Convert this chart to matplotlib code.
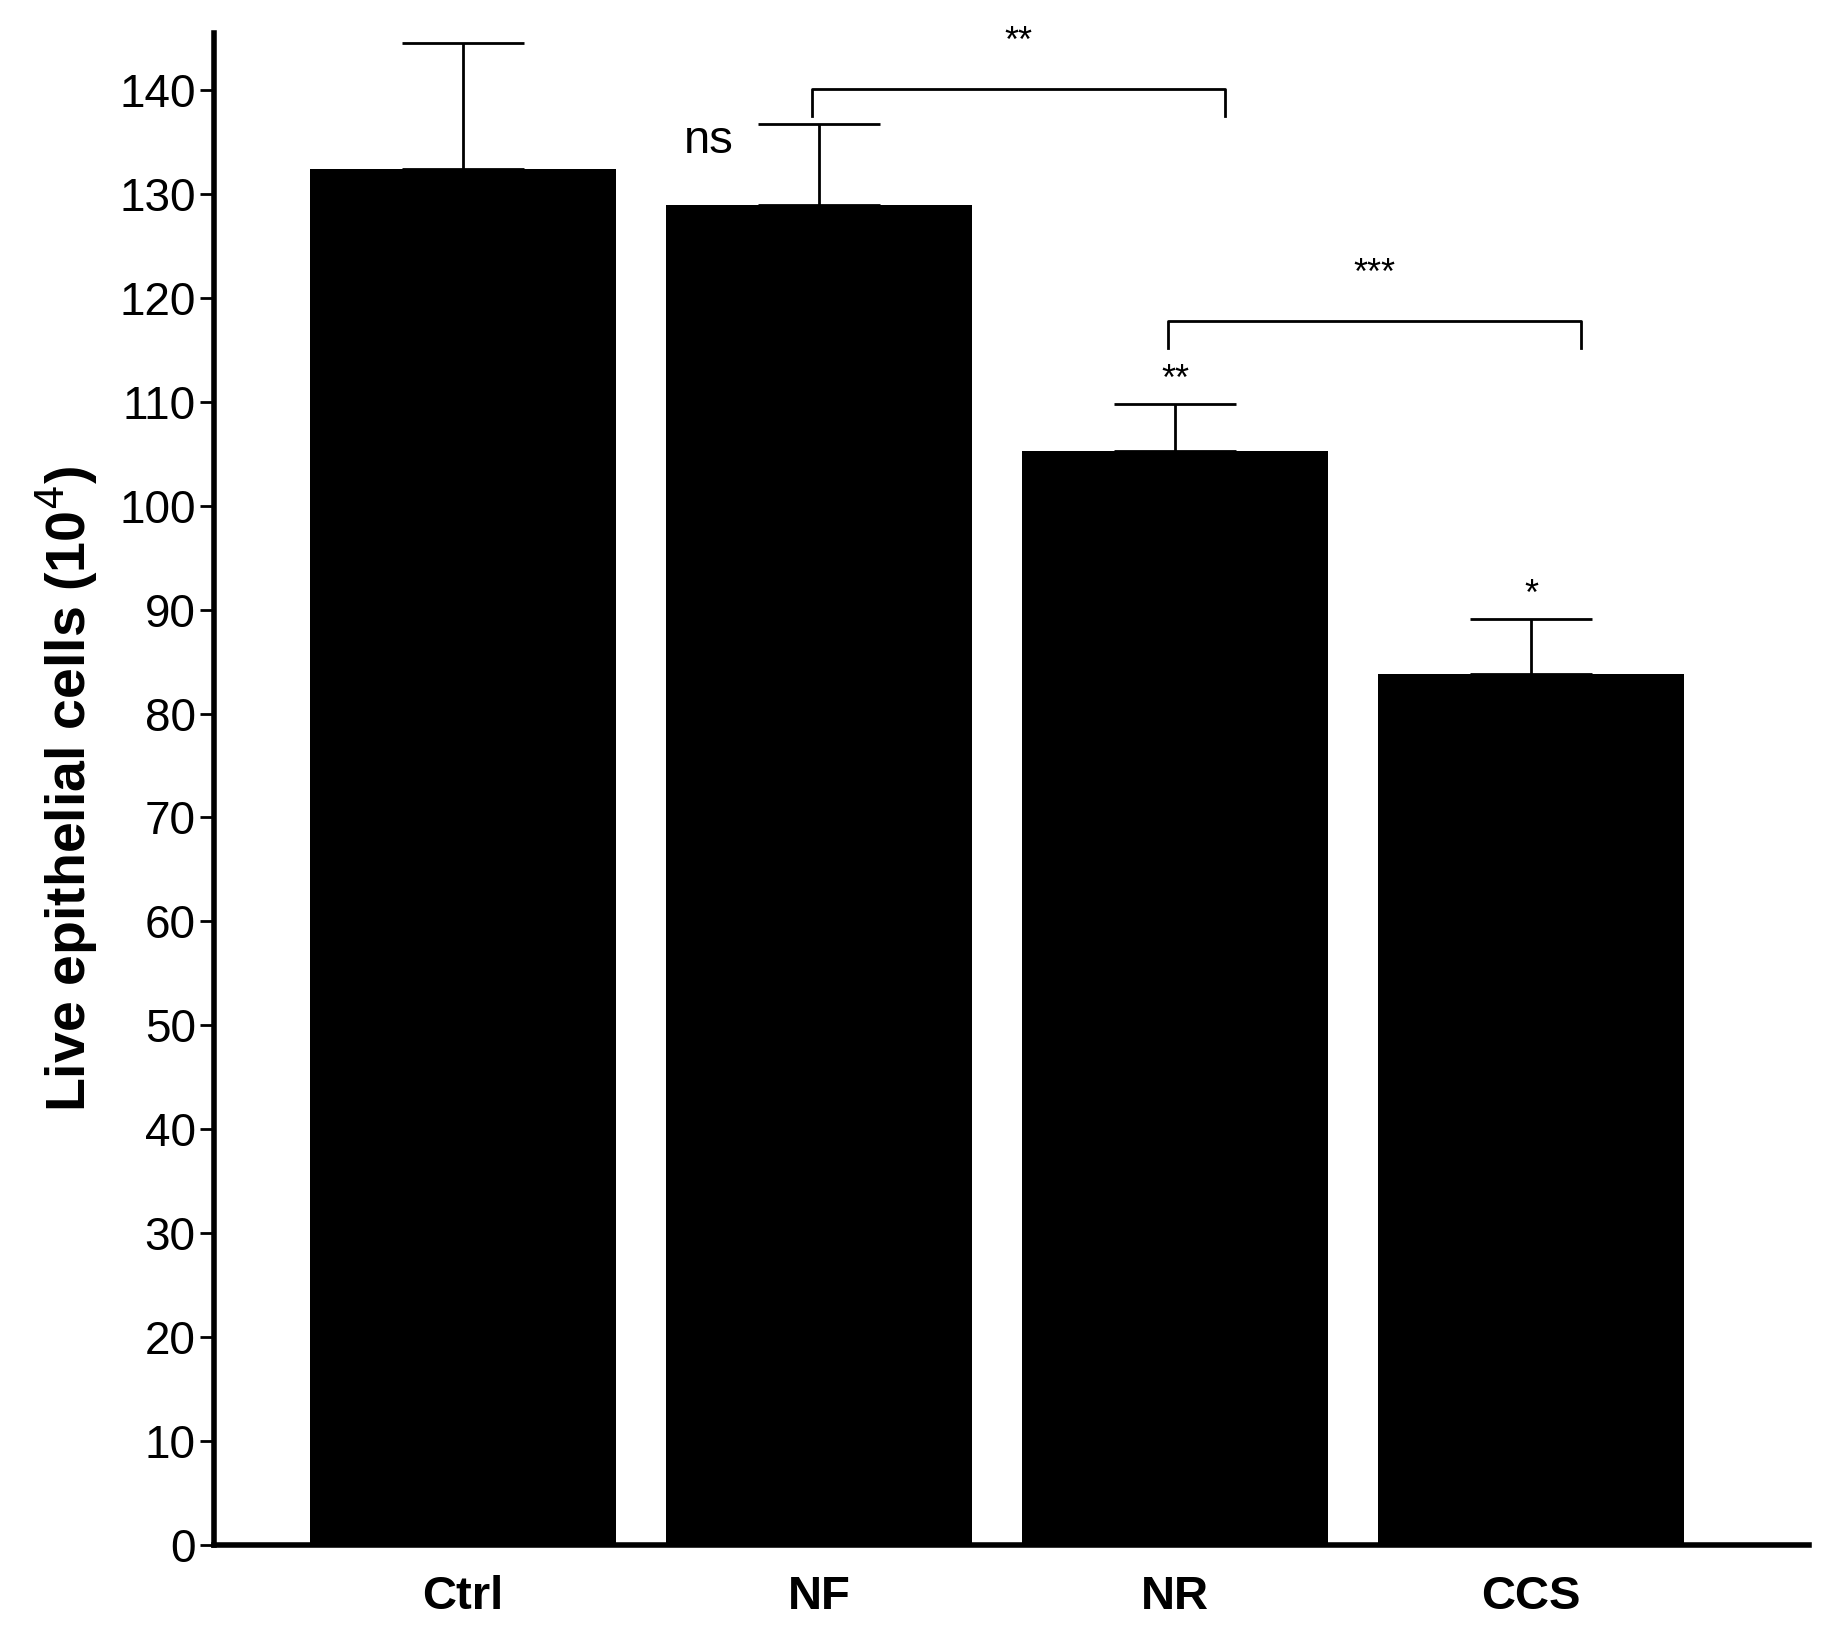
import matplotlib
matplotlib.use("Agg")
import matplotlib.pyplot as plt

categories = ["Ctrl", "NF", "NR", "CCS"]
means = [132.4, 128.9, 105.3, 83.8]
errors = [12.1, 7.8, 4.5, 5.3]
sig_above = ["", "ns", "**", "*"]
brackets = [(1, 2, 140.1, "**"), (2, 3, 117.8, "***")]
yticks = list(range(0, 150, 10))

plt.rcParams["font.family"] = "Liberation Sans"
fig = plt.figure(figsize=(18.27, 16.47), dpi=100)
ax = fig.add_axes([0.117, 0.062, 0.873, 0.918])
x = list(range(len(categories)))
ax.bar(x, means, width=0.86, color="black")
ax.errorbar(x, means, yerr=[[0]*4, errors], fmt="none", ecolor="black",
            elinewidth=2, capsize=44, capthick=2)
for i, (m, e, s) in enumerate(zip(means, errors, sig_above)):
    if s == "ns":
        ax.text(i - 0.31, m + e - 1.6, s, ha="center", va="center", fontsize=34)
    elif s:
        ax.text(i, m + e + 2.3, s, ha="center", va="center", fontsize=26)
for a, b, y, s in brackets:
    ax.plot([a - 0.02, a - 0.02, b + 0.14, b + 0.14], [y - 2.6, y, y, y - 2.6],
            color="black", lw=2)
    ax.text((a + b) / 2 + 0.06, y + 4.5, s, ha="center", va="center", fontsize=26)

ax.set_xlim(-0.70, 3.78)
ax.set_ylim(0, 145.5)
ax.set_yticks(yticks)
ax.set_xticks(x)
ax.set_xticklabels(categories, fontsize=34, fontweight="bold")
ax.tick_params(axis="x", length=0, pad=22)
ax.tick_params(axis="y", labelsize=33, width=2, length=10, pad=3)
ax.set_ylabel("Live epithelial cells (10$^4$)", fontsize=40, fontweight="bold", labelpad=14)
for sp in ["top", "right"]:
    ax.spines[sp].set_visible(False)
for sp in ["left", "bottom"]:
    ax.spines[sp].set_linewidth(4)
fig.savefig("out.png", dpi=100)
